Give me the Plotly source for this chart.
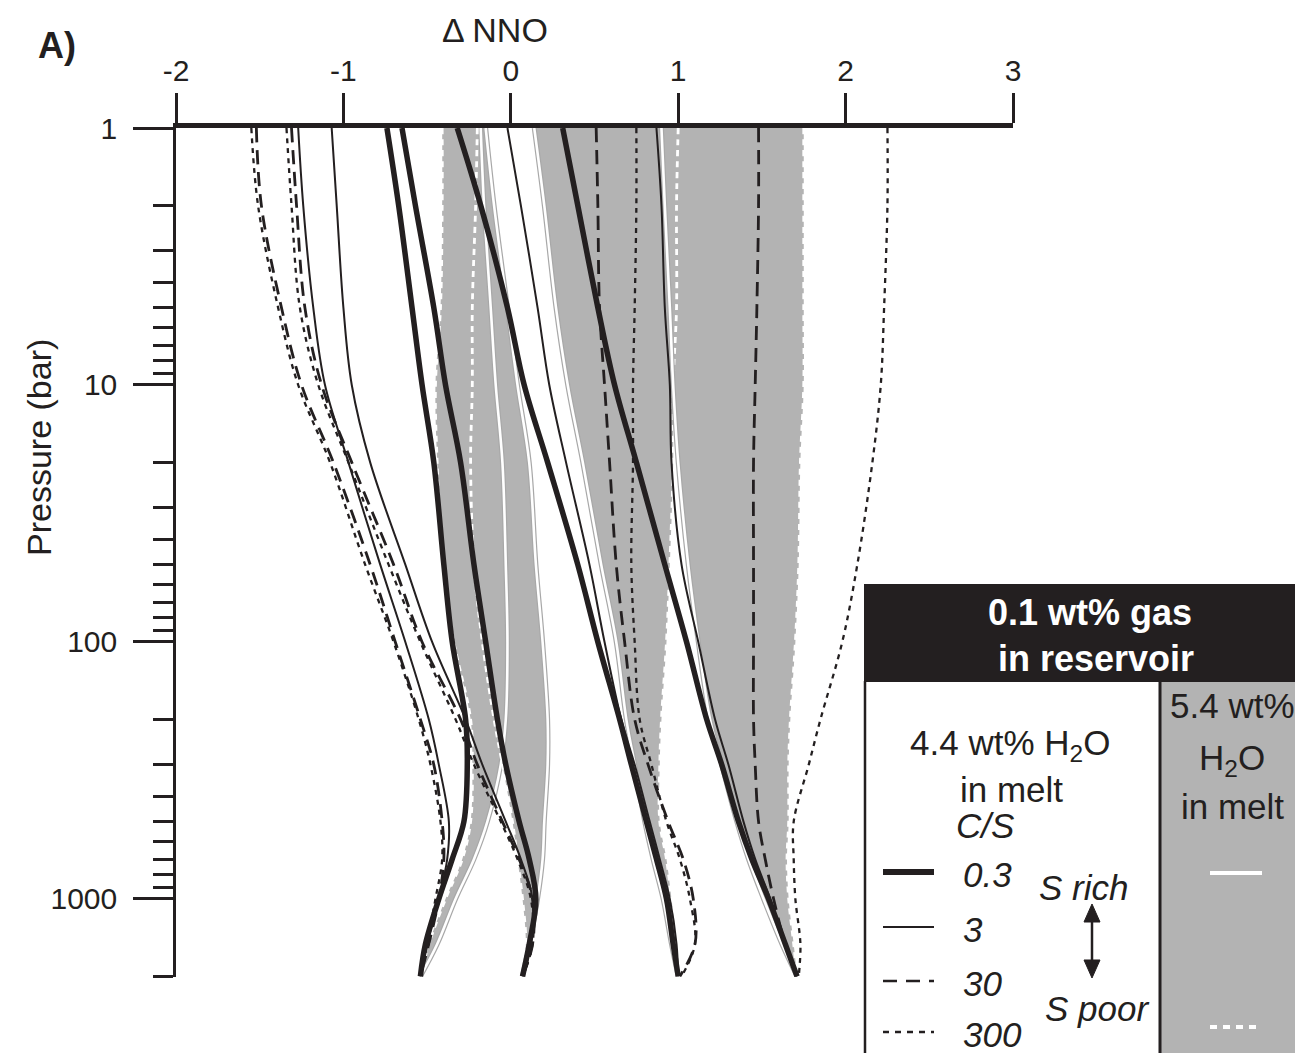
import numpy as np
import plotly.graph_objects as go

# ---------------- data ----------------
pressure = [1, 2, 5, 10, 20, 50, 100, 200, 300, 500, 700, 1000, 1500, 2000]  # bar

# 4.4 wt% H2O in melt (black curves), delta NNO at each pressure
# group A (reservoir dNNO ~ -0.54)
A_cs03 = [-0.74, -0.67, -0.59, -0.53, -0.46, -0.40, -0.35, -0.27, -0.26, -0.28, -0.35, -0.43, -0.51, -0.54]
A_cs3 = [-1.27, -1.24, -1.18, -1.11, -0.97, -0.78, -0.63, -0.49, -0.43, -0.37, -0.38, -0.43, -0.50, -0.54]
A_cs30 = [-1.52, -1.49, -1.37, -1.25, -1.06, -0.84, -0.69, -0.54, -0.46, -0.41, -0.40, -0.43, -0.49, -0.54]
A_cs300 = [-1.55, -1.51, -1.39, -1.27, -1.08, -0.87, -0.70, -0.55, -0.48, -0.42, -0.41, -0.45, -0.50, -0.54]
# group B (reservoir dNNO ~ 0.07)
B_cs03 = [-0.65, -0.57, -0.46, -0.39, -0.30, -0.22, -0.15, -0.08, -0.03, 0.05, 0.11, 0.15, 0.11, 0.07]
B_cs3 = [-1.07, -1.04, -1.00, -0.95, -0.84, -0.63, -0.47, -0.27, -0.17, -0.03, 0.06, 0.13, 0.12, 0.07]
B_cs30 = [-1.31, -1.28, -1.23, -1.13, -0.95, -0.70, -0.53, -0.30, -0.20, -0.05, 0.05, 0.13, 0.13, 0.07]
B_cs300 = [-1.34, -1.31, -1.26, -1.15, -0.97, -0.73, -0.54, -0.33, -0.22, -0.06, 0.04, 0.12, 0.13, 0.07]
# group C (reservoir dNNO ~ 1.00)
C_cs03 = [-0.32, -0.18, -0.02, 0.08, 0.22, 0.40, 0.52, 0.65, 0.72, 0.81, 0.87, 0.93, 0.97, 1.00]
C_cs3 = [-0.02, 0.06, 0.16, 0.23, 0.33, 0.47, 0.56, 0.66, 0.74, 0.83, 0.89, 0.95, 0.99, 1.00]
C_cs30 = [0.51, 0.52, 0.53, 0.56, 0.59, 0.63, 0.68, 0.74, 0.82, 0.94, 1.03, 1.09, 1.10, 1.01]
C_cs300 = [0.75, 0.75, 0.74, 0.73, 0.73, 0.72, 0.74, 0.77, 0.84, 0.93, 1.01, 1.07, 1.10, 1.02]
# group D (reservoir dNNO ~ 1.71)
D_cs03 = [0.31, 0.40, 0.52, 0.62, 0.75, 0.92, 1.05, 1.17, 1.26, 1.36, 1.44, 1.54, 1.64, 1.71]
D_cs3 = [0.87, 0.90, 0.92, 0.95, 0.96, 1.02, 1.12, 1.22, 1.30, 1.39, 1.46, 1.55, 1.64, 1.71]
D_cs30 = [1.48, 1.48, 1.47, 1.46, 1.45, 1.45, 1.45, 1.45, 1.46, 1.48, 1.52, 1.57, 1.64, 1.71]
D_cs300 = [2.25, 2.25, 2.23, 2.21, 2.16, 2.07, 1.98, 1.85, 1.78, 1.69, 1.69, 1.70, 1.73, 1.72]

# 5.4 wt% H2O in melt (white curves bounding the grey fields), C/S 0.3 and 300
A_w03 = [-0.18, -0.16, -0.12, -0.09, -0.05, -0.03, -0.02, -0.03, -0.06, -0.14, -0.22, -0.33, -0.44, -0.54]
A_w300 = [-0.41, -0.41, -0.42, -0.45, -0.44, -0.41, -0.34, -0.24, -0.23, -0.24, -0.29, -0.39, -0.49, -0.54]
B_w03 = [-0.15, -0.10, -0.02, 0.04, 0.11, 0.15, 0.19, 0.22, 0.22, 0.20, 0.19, 0.16, 0.11, 0.07]
B_w300 = [-0.20, -0.21, -0.23, -0.23, -0.24, -0.22, -0.17, -0.10, -0.05, 0.01, 0.04, 0.07, 0.09, 0.07]
C_w03 = [0.14, 0.20, 0.27, 0.34, 0.43, 0.54, 0.63, 0.69, 0.74, 0.80, 0.85, 0.91, 0.96, 1.00]
C_w300 = [1.00, 0.99, 0.99, 0.97, 0.97, 0.95, 0.93, 0.90, 0.89, 0.89, 0.93, 0.96, 0.99, 1.00]
D_w03 = [0.90, 0.92, 0.95, 0.97, 1.00, 1.06, 1.12, 1.19, 1.26, 1.35, 1.42, 1.51, 1.62, 1.71]
D_w300 = [1.75, 1.75, 1.75, 1.75, 1.73, 1.72, 1.70, 1.67, 1.66, 1.66, 1.65, 1.66, 1.69, 1.71]

x_ticks = [-2, -1, 0, 1, 2, 3]
x_ticktext = ["-2", "-1", "0", "1", "2", "3"]
y_ticks = [1, 10, 100, 1000]
y_ticktext = ["1", "10", "100", "1000"]
y_minor = [2, 3, 4, 5, 6, 7, 8, 9, 20, 30, 40, 50, 60, 70, 80, 90,
           200, 300, 400, 500, 600, 700, 800, 900, 2000]
cs_labels = ["0.3", "3", "30", "300"]

# ---------------- styling ----------------
BLACK = "#231f20"
GREY = "#b3b3b3"
EDGE = "#a8a8a8"
FONT = "Arial, Liberation Sans, sans-serif"
SHAPE = dict(shape="spline", smoothing=1.0)

fig = go.Figure()

white_sets = [(A_w03, A_w300), (B_w03, B_w300), (C_w03, C_w300), (D_w03, D_w300)]

# grey fields between C/S 0.3 and C/S 300 curves (5.4 wt% H2O)
for w03, w300 in white_sets:
    fig.add_trace(go.Scatter(x=w03, y=pressure, mode="lines",
                             line=dict(width=0, color=GREY, **SHAPE), hoverinfo="skip"))
    fig.add_trace(go.Scatter(x=w300, y=pressure, mode="lines", fill="tonexty",
                             fillcolor=GREY, line=dict(width=0, color=GREY, **SHAPE),
                             hoverinfo="skip"))

# white curves with light grey edge
for w03, w300 in white_sets:
    fig.add_trace(go.Scatter(x=w03, y=pressure, mode="lines",
                             line=dict(width=5, color=EDGE, **SHAPE), hoverinfo="skip"))
    fig.add_trace(go.Scatter(x=w03, y=pressure, mode="lines",
                             line=dict(width=2.6, color="white", **SHAPE), hoverinfo="skip"))
    fig.add_trace(go.Scatter(x=w300, y=pressure, mode="lines",
                             line=dict(width=2.8, color="white", dash="6px,5px", **SHAPE),
                             hoverinfo="skip"))

# black curves (4.4 wt% H2O)
styles = {
    "300": dict(width=2.3, dash="5px,5px"),
    "30": dict(width=2.8, dash="14px,8px"),
    "3": dict(width=2.0, dash="solid"),
    "0.3": dict(width=5.5, dash="solid"),
}
groups = {
    "300": [A_cs300, B_cs300, C_cs300, D_cs300],
    "30": [A_cs30, B_cs30, C_cs30, D_cs30],
    "3": [A_cs3, B_cs3, C_cs3, D_cs3],
    "0.3": [A_cs03, B_cs03, C_cs03, D_cs03],
}
for key in ["300", "30", "3", "0.3"]:
    for xs in groups[key]:
        fig.add_trace(go.Scatter(x=xs, y=pressure, mode="lines",
                                 line=dict(color=BLACK, **styles[key], **SHAPE),
                                 hoverinfo="skip"))

# ---------------- layout ----------------
# target positions are given in screen pixels; the page body adds an 8 px offset
OFF = 8
W, H = 1303 - 2 * OFF, 1061 - 2 * OFF
L, R, T, B = 176, 1013, 128, 977


def px(xp):
    return (xp - L) / (R - L)


def py(yp):
    return (B - yp) / (B - T)


ybottom = np.log10(2012)

fig.update_layout(
    width=W, height=H,
    margin=dict(l=L - OFF, r=W - (R - OFF), t=T - OFF, b=H - (B - OFF), pad=0),
    paper_bgcolor="white", plot_bgcolor="white",
    showlegend=False, hovermode=False,
    font=dict(family=FONT, color=BLACK, size=30),
    xaxis=dict(range=[-2, 3], side="top", showline=True, linecolor=BLACK, linewidth=5,
               ticks="outside", ticklen=30, tickwidth=2.5, tickcolor=BLACK,
               tickvals=x_ticks, ticktext=x_ticktext, tickfont=dict(size=30),
               showgrid=False, zeroline=False),
    yaxis=dict(type="log", range=[ybottom, 0], showline=True, linecolor=BLACK, linewidth=2.5,
               ticks="outside", ticklen=40, tickwidth=2.5, tickcolor=BLACK,
               tickvals=y_ticks, ticktext=y_ticktext, tickfont=dict(size=30),
               ticklabelstandoff=10,
               minor=dict(ticks="outside", ticklen=20, tickwidth=2.5, tickcolor=BLACK,
                          tickvals=y_minor, showgrid=False),
               showgrid=False, zeroline=False),
)

LEG = 35
ann = []
ann.append(dict(text="\u0394 NNO", x=px(495), y=py(30), font=dict(size=34)))
ann.append(dict(text="<b>A)</b>", x=px(57), y=py(46), font=dict(size=36)))
ann.append(dict(text="Pressure (bar)", x=px(39), y=py(448), textangle=-90, font=dict(size=34)))

# legend box
shapes = []
shapes.append(dict(type="rect", xref="paper", yref="paper", x0=px(1160), x1=px(1320),
                   y0=py(681), y1=py(1080), fillcolor=GREY, line=dict(width=0), layer="above"))
shapes.append(dict(type="rect", xref="paper", yref="paper", x0=px(865), x1=px(1160),
                   y0=py(681), y1=py(1080), fillcolor="white", line=dict(width=0), layer="above"))
shapes.append(dict(type="rect", xref="paper", yref="paper", x0=px(864), x1=px(1320),
                   y0=py(584), y1=py(682), fillcolor=BLACK, line=dict(width=0), layer="above"))
shapes.append(dict(type="line", xref="paper", yref="paper", x0=px(865), x1=px(865),
                   y0=py(681), y1=py(1080), line=dict(color=BLACK, width=2.5), layer="above"))
shapes.append(dict(type="line", xref="paper", yref="paper", x0=px(1160), x1=px(1160),
                   y0=py(681), y1=py(1080), line=dict(color=BLACK, width=3), layer="above"))

# legend line samples
sample_y = [872, 927, 981, 1032]
sample_styles = [dict(width=6, dash="solid"), dict(width=2, dash="solid"),
                 dict(width=2.5, dash="14px,9px"), dict(width=2.3, dash="6px,6px")]
for yy, st in zip(sample_y, sample_styles):
    shapes.append(dict(type="line", xref="paper", yref="paper", x0=px(883), x1=px(934),
                       y0=py(yy), y1=py(yy), line=dict(color=BLACK, **st), layer="above"))
shapes.append(dict(type="line", xref="paper", yref="paper", x0=px(1210), x1=px(1262),
                   y0=py(873), y1=py(873), line=dict(color="white", width=4), layer="above"))
shapes.append(dict(type="line", xref="paper", yref="paper", x0=px(1210), x1=px(1262),
                   y0=py(1027), y1=py(1027), line=dict(color="white", width=4, dash="7px,6px"),
                   layer="above"))

# double-headed arrow (S rich <-> S poor)
shapes.append(dict(type="line", xref="paper", yref="paper", x0=px(1092), x1=px(1092),
                   y0=py(915), y1=py(968), line=dict(color=BLACK, width=2.5), layer="above"))


def tri(pts):
    s = "M " + " L ".join("%f,%f" % (px(a), py(b)) for a, b in pts) + " Z"
    return s


shapes.append(dict(type="path", xref="paper", yref="paper",
                   path=tri([(1084, 922), (1092, 904), (1100, 922)]),
                   fillcolor=BLACK, line=dict(color=BLACK, width=1), layer="above"))
shapes.append(dict(type="path", xref="paper", yref="paper",
                   path=tri([(1084, 960), (1092, 978), (1100, 960)]),
                   fillcolor=BLACK, line=dict(color=BLACK, width=1), layer="above"))

ann.append(dict(text="<b>0.1 wt% gas</b>", x=px(1090), y=py(612), font=dict(size=LEG + 1, color="white")))
ann.append(dict(text="<b>in reservoir</b>", x=px(1096), y=py(658), font=dict(size=LEG + 1, color="white")))
ann.append(dict(text="4.4 wt% H<sub>2</sub>O", x=px(1010), y=py(745), font=dict(size=LEG)))
ann.append(dict(text="in melt", x=px(1011), y=py(789), font=dict(size=LEG)))
ann.append(dict(text="<i>C/S</i>", x=px(985), y=py(825), font=dict(size=LEG)))
for lab, yy in zip(cs_labels, sample_y):
    ann.append(dict(text="<i>" + lab + "</i>", x=px(961), y=py(yy + 2), xanchor="left",
                    font=dict(size=LEG)))
ann.append(dict(text="<i>S rich</i>", x=px(1083), y=py(887), font=dict(size=LEG)))
ann.append(dict(text="<i>S poor</i>", x=px(1097), y=py(1008), font=dict(size=LEG)))
ann.append(dict(text="5.4 wt%", x=px(1232), y=py(705), font=dict(size=LEG)))
ann.append(dict(text="H<sub>2</sub>O", x=px(1232), y=py(760), font=dict(size=LEG)))
ann.append(dict(text="in melt", x=px(1232), y=py(806), font=dict(size=LEG)))

for a in ann:
    a.setdefault("xref", "paper")
    a.setdefault("yref", "paper")
    a.setdefault("showarrow", False)
    a.setdefault("xanchor", "center")
    a.setdefault("yanchor", "middle")

fig.update_layout(annotations=ann, shapes=shapes)

fig.write_html("out.html")
